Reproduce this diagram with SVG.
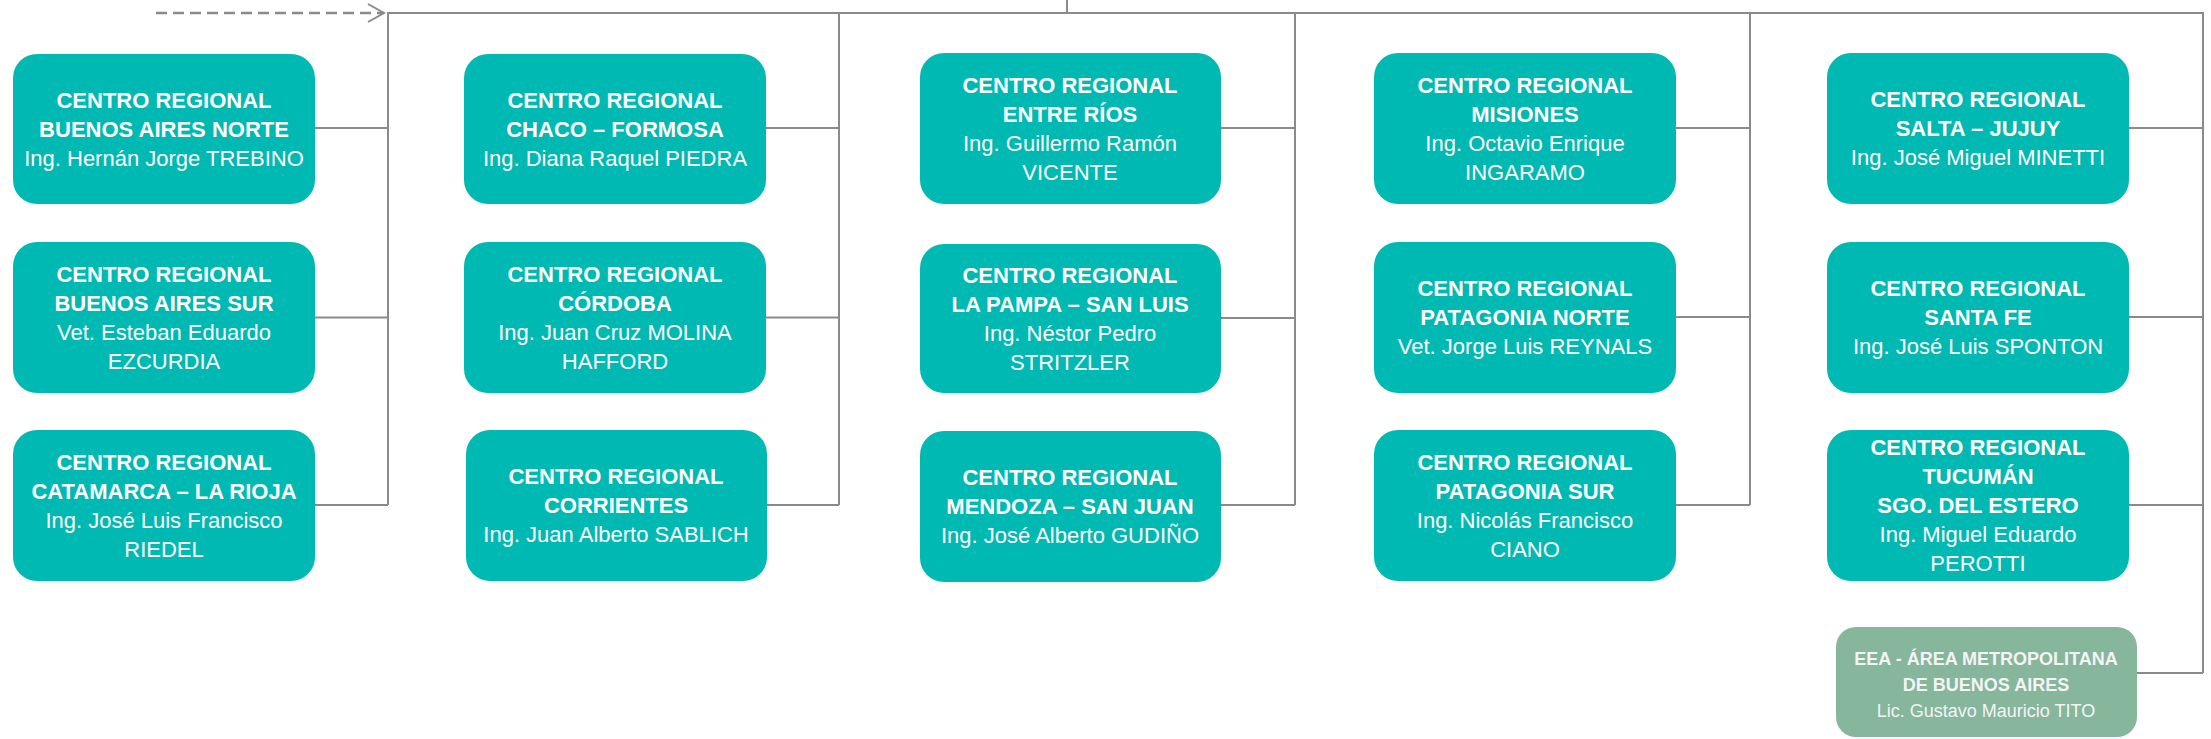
<svg xmlns="http://www.w3.org/2000/svg" width="2211" height="739" viewBox="0 0 2211 739">
<style>
.box{fill:#00b9b2}
.eea{fill:#86b69c}
.t{font-family:"Liberation Sans",Arial,sans-serif;font-size:22px;fill:#ffffff;text-anchor:middle}
.b{font-weight:bold}
.s{font-family:"Liberation Sans",Arial,sans-serif;font-size:18px;fill:#f4f4f4;text-anchor:middle}
.ln{stroke:#8a8a8a;stroke-width:2;fill:none}
.dash{stroke:#8a8a8a;stroke-width:2.5;fill:none;stroke-dasharray:11 6}
</style>
<rect width="2211" height="739" fill="#ffffff"/>
<g id="connectors">
<line class="dash" x1="156" y1="13" x2="383" y2="13"/>
<polyline class="ln" points="368,4 384,13 368,22" stroke-width="2.5"/>
<line class="ln" x1="387" y1="13" x2="2204" y2="13"/>
<line class="ln" x1="1067" y1="0" x2="1067" y2="13"/>
<path class="ln" d="M388,13 V505 M315,128 H388 M315,317.5 H388 M315,505 H388"/>
<path class="ln" d="M839,13 V505 M766,128 H839 M766,317.5 H839 M767,505 H839"/>
<path class="ln" d="M1295,13 V505 M1221,128 H1295 M1221,318 H1295 M1221,505 H1295"/>
<path class="ln" d="M1750,13 V505 M1676,128 H1750 M1676,317 H1750 M1676,505 H1750"/>
<path class="ln" d="M2203,13 V673 M2129,128 H2203 M2129,317 H2203 M2129,505 H2203 M2137,673 H2203"/>
</g>
<g id="ba-norte">
<rect class="box" x="13" y="54" width="302" height="150" rx="24"/>
<text class="t b" x="164" y="108">CENTRO REGIONAL</text>
<text class="t b" x="164" y="137">BUENOS AIRES NORTE</text>
<text class="t" x="164" y="166">Ing. Hernán Jorge TREBINO</text>
</g>
<g id="ba-sur">
<rect class="box" x="13" y="242" width="302" height="151" rx="24"/>
<text class="t b" x="164" y="282">CENTRO REGIONAL</text>
<text class="t b" x="164" y="311">BUENOS AIRES SUR</text>
<text class="t" x="164" y="340">Vet. Esteban Eduardo</text>
<text class="t" x="164" y="369">EZCURDIA</text>
</g>
<g id="catamarca">
<rect class="box" x="13" y="430" width="302" height="151" rx="24"/>
<text class="t b" x="164" y="470">CENTRO REGIONAL</text>
<text class="t b" x="164" y="499">CATAMARCA – LA RIOJA</text>
<text class="t" x="164" y="528">Ing. José Luis Francisco</text>
<text class="t" x="164" y="557">RIEDEL</text>
</g>
<g id="chaco">
<rect class="box" x="464" y="54" width="302" height="150" rx="24"/>
<text class="t b" x="615" y="108">CENTRO REGIONAL</text>
<text class="t b" x="615" y="137">CHACO – FORMOSA</text>
<text class="t" x="615" y="166">Ing. Diana Raquel PIEDRA</text>
</g>
<g id="cordoba">
<rect class="box" x="464" y="242" width="302" height="151" rx="24"/>
<text class="t b" x="615" y="282">CENTRO REGIONAL</text>
<text class="t b" x="615" y="311">CÓRDOBA</text>
<text class="t" x="615" y="340">Ing. Juan Cruz MOLINA</text>
<text class="t" x="615" y="369">HAFFORD</text>
</g>
<g id="corrientes">
<rect class="box" x="466" y="430" width="301" height="151" rx="24"/>
<text class="t b" x="616" y="484">CENTRO REGIONAL</text>
<text class="t b" x="616" y="513">CORRIENTES</text>
<text class="t" x="616" y="542">Ing. Juan Alberto SABLICH</text>
</g>
<g id="entre-rios">
<rect class="box" x="920" y="53" width="301" height="151" rx="24"/>
<text class="t b" x="1070" y="93">CENTRO REGIONAL</text>
<text class="t b" x="1070" y="122">ENTRE RÍOS</text>
<text class="t" x="1070" y="151">Ing. Guillermo Ramón</text>
<text class="t" x="1070" y="180">VICENTE</text>
</g>
<g id="la-pampa">
<rect class="box" x="920" y="244" width="301" height="149" rx="24"/>
<text class="t b" x="1070" y="283">CENTRO REGIONAL</text>
<text class="t b" x="1070" y="312">LA PAMPA – SAN LUIS</text>
<text class="t" x="1070" y="341">Ing. Néstor Pedro</text>
<text class="t" x="1070" y="370">STRITZLER</text>
</g>
<g id="mendoza">
<rect class="box" x="920" y="431" width="301" height="151" rx="24"/>
<text class="t b" x="1070" y="485">CENTRO REGIONAL</text>
<text class="t b" x="1070" y="514">MENDOZA – SAN JUAN</text>
<text class="t" x="1070" y="543">Ing. José Alberto GUDIÑO</text>
</g>
<g id="misiones">
<rect class="box" x="1374" y="53" width="302" height="151" rx="24"/>
<text class="t b" x="1525" y="93">CENTRO REGIONAL</text>
<text class="t b" x="1525" y="122">MISIONES</text>
<text class="t" x="1525" y="151">Ing. Octavio Enrique</text>
<text class="t" x="1525" y="180">INGARAMO</text>
</g>
<g id="patagonia-norte">
<rect class="box" x="1374" y="242" width="302" height="151" rx="24"/>
<text class="t b" x="1525" y="296">CENTRO REGIONAL</text>
<text class="t b" x="1525" y="325">PATAGONIA NORTE</text>
<text class="t" x="1525" y="354">Vet. Jorge Luis REYNALS</text>
</g>
<g id="patagonia-sur">
<rect class="box" x="1374" y="430" width="302" height="151" rx="24"/>
<text class="t b" x="1525" y="470">CENTRO REGIONAL</text>
<text class="t b" x="1525" y="499">PATAGONIA SUR</text>
<text class="t" x="1525" y="528">Ing. Nicolás Francisco</text>
<text class="t" x="1525" y="557">CIANO</text>
</g>
<g id="salta">
<rect class="box" x="1827" y="53" width="302" height="151" rx="24"/>
<text class="t b" x="1978" y="107">CENTRO REGIONAL</text>
<text class="t b" x="1978" y="136">SALTA – JUJUY</text>
<text class="t" x="1978" y="165">Ing. José Miguel MINETTI</text>
</g>
<g id="santa-fe">
<rect class="box" x="1827" y="242" width="302" height="151" rx="24"/>
<text class="t b" x="1978" y="296">CENTRO REGIONAL</text>
<text class="t b" x="1978" y="325">SANTA FE</text>
<text class="t" x="1978" y="354">Ing. José Luis SPONTON</text>
</g>
<g id="tucuman">
<rect class="box" x="1827" y="430" width="302" height="151" rx="24"/>
<text class="t b" x="1978" y="455">CENTRO REGIONAL</text>
<text class="t b" x="1978" y="484">TUCUMÁN</text>
<text class="t b" x="1978" y="513">SGO. DEL ESTERO</text>
<text class="t" x="1978" y="542">Ing. Miguel Eduardo</text>
<text class="t" x="1978" y="571">PEROTTI</text>
</g>
<g id="eea-amba">
<rect class="eea" x="1836" y="627" width="301" height="110" rx="20"/>
<text class="s b" x="1986" y="665">EEA - ÁREA METROPOLITANA</text>
<text class="s b" x="1986" y="691">DE BUENOS AIRES</text>
<text class="s" x="1986" y="717">Lic. Gustavo Mauricio TITO</text>
</g>
</svg>
